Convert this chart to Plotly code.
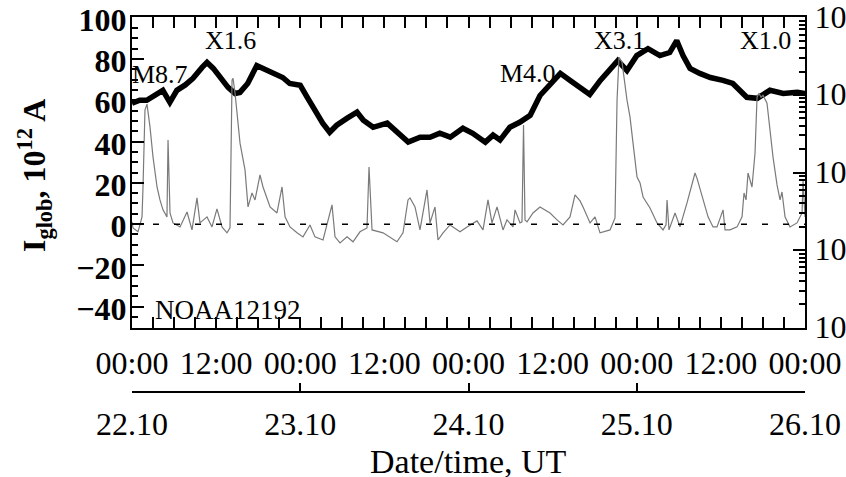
import plotly.graph_objects as go

# ---- data (hours since 22.10.2014 00:00 UT) ----
hours_iglob = [0.0, 1.1, 2.1, 3.6, 4.4, 5.4, 6.4, 7.6, 8.7, 10.0, 10.7, 11.6, 12.6, 13.7, 14.7, 15.4,
               16.5, 17.8, 18.7, 20.1, 21.5, 22.5, 24.0, 25.0, 25.8, 27.2, 28.2, 29.2, 30.7, 32.1,
               33.0, 34.4, 36.4, 37.8, 39.4, 41.1, 42.5, 43.9, 45.4, 47.2, 48.6, 50.4, 51.5, 52.5,
               53.9, 55.3, 56.8, 58.2, 59.6, 61.1, 62.5, 64.3, 65.3, 66.8, 68.2, 69.3, 70.6, 72.0,
               73.6, 75.3, 76.7, 77.7, 78.6, 79.6, 81.0, 82.5, 84.3, 85.7, 87.7, 89.2, 91.0, 92.9,
               94.9, 96.0]
iglob = [58.5, 60.0, 60.0, 63.3, 64.8, 59.0, 64.8, 67.4, 70.6, 75.9, 78.3, 75.4, 71.0, 66.2, 63.3, 63.8,
         68.1, 76.8, 75.4, 73.5, 71.0, 68.1, 67.2, 61.4, 56.6, 48.9, 44.5, 47.9, 51.3, 54.2,
         50.3, 46.9, 48.9, 44.5, 39.7, 42.1, 42.1, 44.0, 42.1, 46.4, 44.0, 39.7, 43.1, 40.7,
         46.9, 49.3, 52.7, 62.3, 67.2, 73.0, 69.6, 64.8, 62.8, 69.6, 75.4, 79.2, 74.4, 81.6,
         85.0, 81.6, 83.1, 88.9, 81.6, 75.4, 73.0, 71.0, 69.6, 68.1, 61.4, 60.9, 64.8, 63.3,
         63.8, 63.3]

hours_goes = [0.0, 0.14, 0.86, 1.43, 1.57, 1.85, 2.14, 2.57, 3.00, 3.57, 3.99, 4.42, 4.99, 5.14, 5.42,
              5.85, 6.85, 7.85, 8.56, 9.27, 9.70, 10.70, 11.41, 12.12, 12.84, 13.55, 13.98, 14.27,
              14.41, 14.70, 15.41, 15.83, 16.12, 16.55, 17.12, 17.55, 18.26, 18.69, 19.69, 20.68,
              21.40, 21.83, 22.54, 23.54, 24.39, 25.39, 26.10, 27.25, 28.53, 28.96, 29.67, 30.67,
              31.53, 32.52, 33.52, 33.81, 34.24, 35.81, 37.80, 38.66, 39.37, 39.66, 40.37, 41.08,
              42.08, 42.51, 43.22, 43.65, 44.37, 45.36, 46.79, 47.79, 49.21, 50.07, 50.78, 51.35,
              52.07, 52.92, 53.49, 54.35, 54.64, 55.35, 55.63, 55.85, 56.06, 56.35, 57.20, 58.20,
              59.63, 60.63, 61.48, 62.48, 63.19, 63.91, 64.34, 65.34, 66.05, 66.76, 68.19, 68.90,
              69.19, 69.47, 69.90, 70.61, 71.04, 71.47, 72.04, 72.47, 72.90, 73.89, 74.89, 75.75,
              76.18, 76.32, 76.60, 77.46, 78.17, 79.17, 79.89, 80.31, 80.60, 81.46, 82.17, 82.88,
              83.45, 84.31, 84.59, 85.31, 86.31, 87.02, 87.30, 87.59, 87.87, 88.44, 88.87, 89.16,
              89.44, 89.73, 90.01, 90.58, 91.01, 91.44, 92.01, 92.44, 92.72, 93.15, 93.86, 94.86,
              95.58, 95.72, 96.0]
goes_flux = [2.31e-6, 1.93e-6, 1.72e-6, 2.68e-6, 6.51e-6, 6.37e-5, 7.60e-5, 3.85e-5, 1.58e-5, 6.51e-6,
             4.43e-6, 3.30e-6, 2.68e-6, 2.62e-5, 3.01e-6, 2.24e-6, 1.99e-6, 3.10e-6, 1.82e-6, 4.70e-6,
             2.24e-6, 2.68e-6, 1.99e-6, 3.39e-6, 1.99e-6, 1.67e-6, 1.93e-6, 1.55e-4, 1.64e-4, 1.05e-4,
             2.39e-5, 1.45e-5, 1.08e-5, 3.60e-6, 5.45e-6, 4.43e-6, 9.29e-6, 6.51e-6, 3.60e-6, 3.01e-6,
             6.51e-6, 2.68e-6, 1.99e-6, 1.67e-6, 1.48e-6, 2.11e-6, 1.48e-6, 1.35e-6, 3.82e-6, 1.48e-6,
             1.24e-6, 1.48e-6, 1.28e-6, 1.72e-6, 1.93e-6, 1.18e-5, 1.82e-6, 1.67e-6, 1.28e-6, 1.67e-6,
             4.43e-6, 4.70e-6, 3.60e-6, 1.82e-6, 5.96e-6, 2.24e-6, 3.60e-6, 1.35e-6, 1.67e-6, 2.11e-6,
             1.72e-6, 1.99e-6, 2.38e-6, 1.82e-6, 4.43e-6, 2.24e-6, 3.60e-6, 1.82e-6, 2.45e-6, 1.99e-6,
             3.30e-6, 2.24e-6, 2.31e-6, 4.08e-5, 2.45e-6, 2.31e-6, 3.01e-6, 3.60e-6, 3.01e-6, 2.45e-6,
             2.11e-6, 2.68e-6, 5.14e-6, 4.30e-6, 3.60e-6, 2.24e-6, 2.68e-6, 1.67e-6, 1.82e-6, 2.60e-6,
             8.56e-5, 3.06e-4, 2.64e-4, 8.56e-5, 5.18e-5, 2.39e-5, 8.75e-6, 7.33e-6, 4.84e-6, 3.49e-6,
             2.24e-6, 1.82e-6, 2.11e-6, 4.43e-6, 1.82e-6, 3.01e-6, 1.99e-6, 4.05e-6, 7.33e-6, 9.86e-6,
             8.40e-6, 4.43e-6, 2.68e-6, 1.99e-6, 1.99e-6, 3.30e-6, 1.82e-6, 1.82e-6, 1.99e-6, 2.68e-6,
             5.45e-6, 4.43e-6, 9.86e-6, 6.51e-6, 1.78e-5, 9.35e-5, 1.05e-4, 9.35e-5, 9.90e-5, 7.83e-5,
             3.52e-5, 1.58e-5, 6.91e-6, 4.43e-6, 5.61e-6, 2.68e-6, 1.99e-6, 2.24e-6, 3.01e-6, 8.01e-6,
             2.68e-6]

time_tick_hours = [0, 12, 24, 36, 48, 60, 72, 84, 96]
time_tick_labels = ["00:00", "12:00", "00:00", "12:00", "00:00", "12:00", "00:00", "12:00", "00:00"]
date_tick_hours = [0, 24, 48, 72, 96]
date_tick_labels = ["22.10", "23.10", "24.10", "25.10", "26.10"]
left_ticks = [-40, -20, 0, 20, 40, 60, 80, 100]
right_ticks = [1e-7, 1e-6, 1e-5, 1e-4, 1e-3]
right_tick_labels = ["10<sup>-7</sup>", "10<sup>-6</sup>", "10<sup>-5</sup>", "10<sup>-4</sup>", "10<sup>-3</sup>"]

flare_labels = ["M8.7", "X1.6", "M4.0", "X3.1", "X1.0"]
flare_hours = [4.0, 14.1, 56.5, 69.5, 90.4]
flare_label_y = [72.5, 88.9, 73.0, 88.9, 88.9]

FONT = "Liberation Serif"
minor_log = [k * 10.0 ** e for e in range(-7, -3) for k in range(2, 10)]

fig = go.Figure()
fig.add_trace(go.Scatter(x=hours_iglob, y=iglob, mode="lines",
                         line=dict(color="black", width=5.5), showlegend=False, hoverinfo="skip"))
fig.add_trace(go.Scatter(x=hours_goes, y=goes_flux, mode="lines", yaxis="y2",
                         line=dict(color="#7a7a7a", width=1.2), showlegend=False, hoverinfo="skip"))
fig.add_trace(go.Scatter(x=[], y=[], xaxis="x2", yaxis="y", showlegend=False, hoverinfo="skip"))

fig.add_shape(type="line", xref="x", yref="y", x0=0, x1=96, y0=0, y1=0,
              line=dict(color="black", width=1.5, dash="6px,15px"))

ann = []
for t, h, v in zip(flare_labels, flare_hours, flare_label_y):
    ann.append(dict(text=t, x=h, y=v, xref="x", yref="y", showarrow=False,
                    xanchor="center", yanchor="middle",
                    font=dict(family=FONT, size=26, color="black")))
ann.append(dict(text="NOAA12192", x=13.7, y=-41.8, xref="x", yref="y", showarrow=False,
                xanchor="center", yanchor="middle",
                font=dict(family=FONT, size=27, color="black")))
ann.append(dict(text="I<sub>glob</sub>, 10<sup>12</sup> A", x=-0.1456, y=0.576, xref="paper", yref="paper",
                textangle=-90, showarrow=False, xanchor="center", yanchor="middle",
                font=dict(family=FONT, size=32, color="black", weight="bold")))
ann.append(dict(text="Date/time, UT", x=0.5, y=-0.185, xref="paper", yref="paper",
                showarrow=False, xanchor="center", yanchor="middle",
                font=dict(family=FONT, size=34, color="black")))

dom_bottom = (392 - 328) / 375

fig.update_layout(
    width=846, height=477,
    margin=dict(l=132, r=41, t=17, b=85),
    paper_bgcolor="white", plot_bgcolor="white",
    annotations=ann,
    xaxis=dict(domain=[0, 1], anchor="y", range=[0, 96], tickmode="array",
               tickvals=time_tick_hours, ticktext=time_tick_labels,
               ticks="inside", ticklen=11, tickwidth=1.5, tickcolor="black",
               showline=True, linewidth=2, linecolor="black", mirror="allticks",
               minor=dict(ticks="inside", ticklen=6, dtick=3, tick0=0, tickwidth=1.5, tickcolor="black"),
               tickfont=dict(family=FONT, size=32, color="black"), automargin=False,
               ticklabeloverflow="allow",
               ticklabelstandoff=6, showgrid=False, zeroline=False),
    yaxis=dict(domain=[dom_bottom, 1], anchor="x", range=[-50.3, 100.3], tickmode="array",
               tickvals=left_ticks, ticks="inside", ticklen=12, tickwidth=1.5, tickcolor="black",
               showline=True, linewidth=2, linecolor="black",
               minor=dict(ticks="inside", ticklen=6, dtick=5, tick0=0, tickwidth=1.5, tickcolor="black"),
               tickfont=dict(family=FONT, size=32, color="black", weight="bold"), automargin=False,
               ticklabeloverflow="allow", ticklabelshift=2,
               ticklabelstandoff=-3, showgrid=False, zeroline=False),
    yaxis2=dict(overlaying="y", side="right", anchor="x", type="log", range=[-7.004, -2.996],
                tickmode="array", tickvals=right_ticks, ticktext=right_tick_labels,
                ticks="inside", ticklen=12, tickwidth=1.5, tickcolor="black",
                showline=True, linewidth=2, linecolor="black",
                minor=dict(ticks="inside", ticklen=6, tickvals=minor_log, tickwidth=1.5, tickcolor="black"),
                tickfont=dict(family=FONT, size=32, color="black"), automargin=False,
                ticklabeloverflow="allow", ticklabelshift=-1,
                ticklabelstandoff=1, showgrid=False, zeroline=False),
    xaxis2=dict(overlaying="x", anchor="free", position=0, side="bottom", range=[0, 96],
                tickmode="array", tickvals=date_tick_hours, ticktext=date_tick_labels,
                ticks="inside", ticklen=8, tickwidth=1.5, tickcolor="black",
                showline=True, linewidth=1.5, linecolor="black", automargin=False,
                tickfont=dict(family=FONT, size=32, color="black"),
                ticklabeloverflow="allow",
                ticklabelstandoff=4, showgrid=False, zeroline=False),
)

fig.write_html("out.html")
